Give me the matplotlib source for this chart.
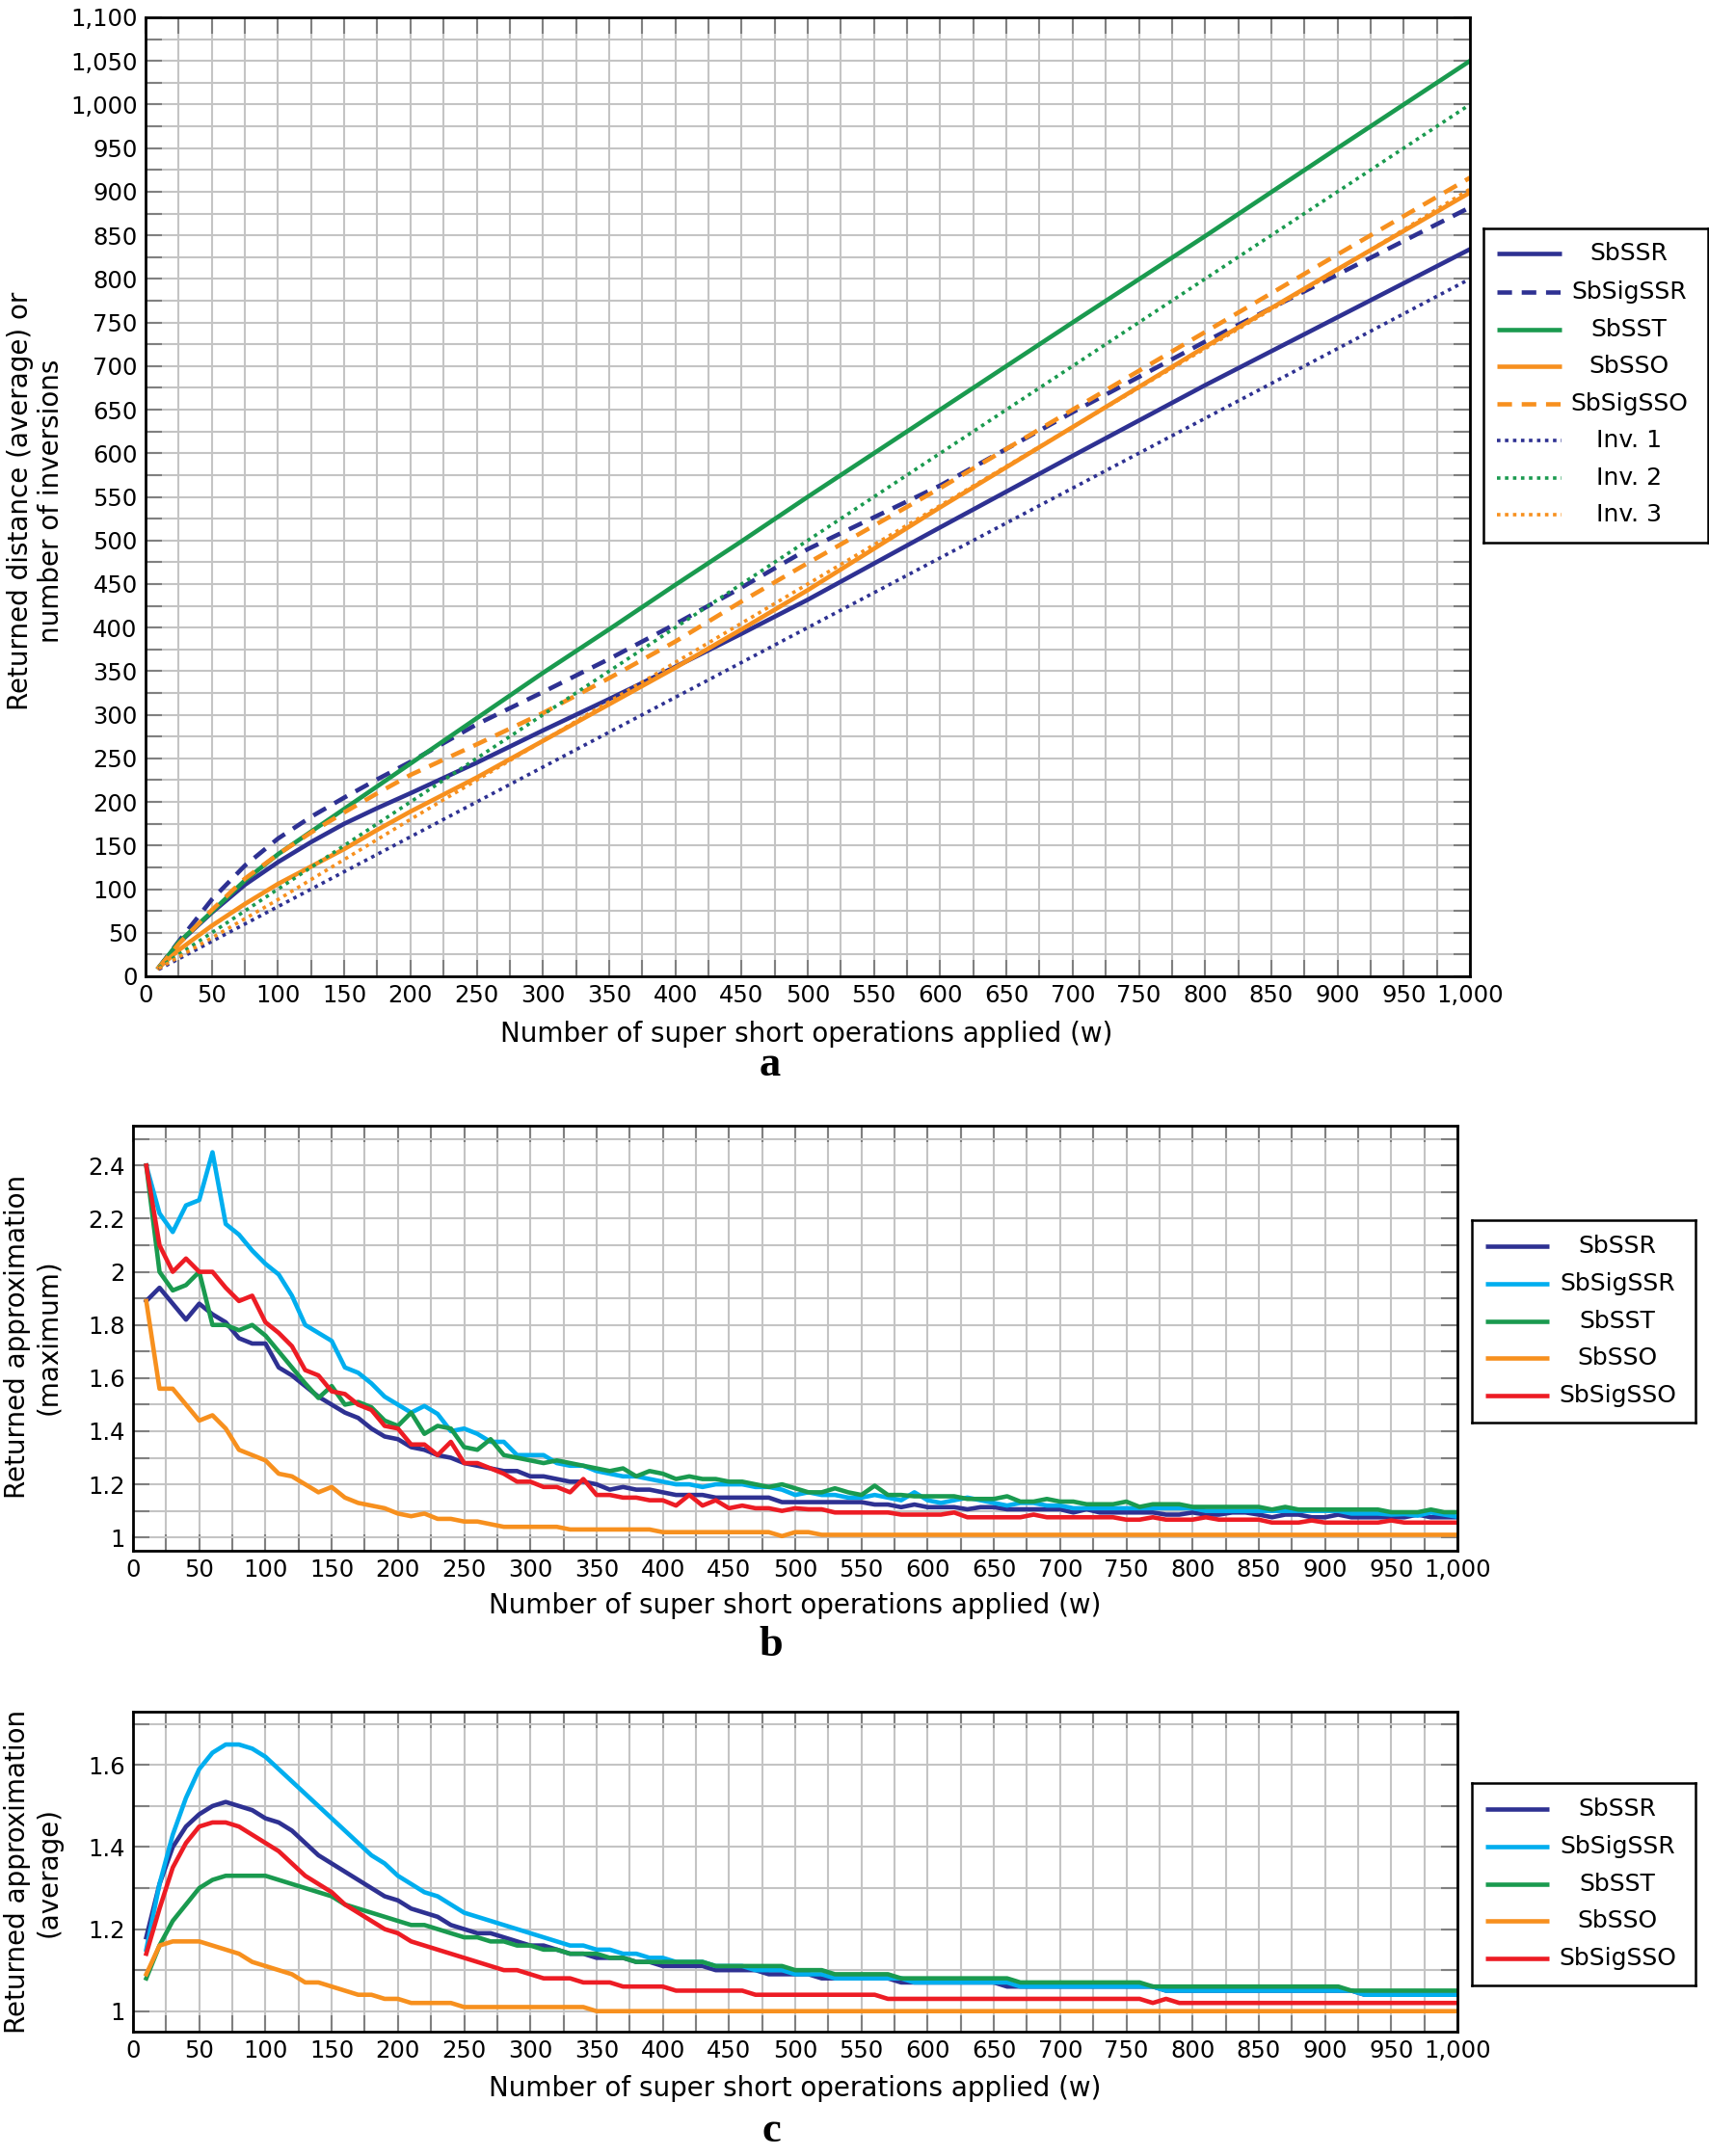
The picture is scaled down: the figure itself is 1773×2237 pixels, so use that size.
import numpy as np
import matplotlib
matplotlib.use('Agg')
import matplotlib.pyplot as plt
from matplotlib.ticker import MultipleLocator, FuncFormatter

plt.rcParams['font.family'] = 'DejaVu Sans'

# ---------------- panel a : returned distance / inversions ----------------
xa = [10, 25, 50, 75, 100, 125, 150, 175, 200, 250, 300, 350, 400, 450, 500, 600, 700, 800, 900, 1000]
a_sbssr    = [10, 38, 73, 105, 131, 154, 175, 193, 210, 245, 282, 318, 355, 393, 432, 515, 597, 678, 756, 834]
a_sbsigssr = [10, 40, 88, 127, 158, 183, 205, 226, 246, 289, 326, 364, 404, 446, 490, 563, 647, 728, 805, 882]
a_sbsst    = [10, 39, 74, 110, 140, 166, 192, 218, 244, 296, 348, 398, 449, 499, 550, 650, 750, 849, 950, 1050]
a_sbsso    = [10, 30, 58, 83, 106, 126, 146, 168, 189, 228, 270, 312, 354, 398, 443, 538, 630, 722, 811, 899]
a_sbsigsso = [10, 37, 76, 112, 140, 165, 188, 210, 231, 266, 302, 342, 384, 430, 474, 560, 650, 739, 828, 916]

x_inv = [10, 100, 200, 300, 400, 500, 600, 700, 800, 900, 1000]
inv1 = [8, 80, 160, 240, 320, 400, 480, 560, 640, 720, 800]
inv2 = [10, 100, 200, 300, 400, 500, 600, 700, 800, 900, 1000]
inv3 = [9, 88, 180, 270, 360, 450, 540, 630, 720, 810, 903]

# ---------------- panels b and c : x = 10 .. 1000 step 10 ----------------
xw = np.arange(10, 1001, 10)

b_sbssr = [1.89, 1.94, 1.88, 1.82, 1.88, 1.84, 1.81, 1.75, 1.73, 1.73,
           1.64, 1.61, 1.57, 1.53, 1.50, 1.47, 1.45, 1.41, 1.38, 1.37,
           1.34, 1.33, 1.31, 1.30, 1.28, 1.27, 1.26, 1.25, 1.25, 1.23,
           1.23, 1.22, 1.21, 1.21, 1.20, 1.18, 1.19, 1.18, 1.18, 1.17,
           1.16, 1.16, 1.16, 1.15, 1.15, 1.15, 1.15, 1.15, 1.133, 1.133,
           1.133, 1.133, 1.133, 1.133, 1.133, 1.124, 1.124, 1.114, 1.124, 1.114,
           1.114, 1.114, 1.106, 1.114, 1.114, 1.106, 1.106, 1.106, 1.106, 1.106,
           1.094, 1.106, 1.094, 1.094, 1.094, 1.094, 1.094, 1.086, 1.086, 1.094,
           1.086, 1.086, 1.094, 1.094, 1.086, 1.076, 1.086, 1.086, 1.076, 1.076,
           1.086, 1.076, 1.076, 1.076, 1.076, 1.076, 1.086, 1.076, 1.076, 1.076]
b_sbsigssr = [2.40, 2.22, 2.15, 2.25, 2.27, 2.45, 2.18, 2.14, 2.08, 2.03,
              1.99, 1.91, 1.80, 1.77, 1.74, 1.64, 1.62, 1.58, 1.53, 1.50,
              1.47, 1.495, 1.465, 1.40, 1.41, 1.39, 1.36, 1.36, 1.31, 1.31,
              1.31, 1.28, 1.27, 1.27, 1.25, 1.24, 1.23, 1.23, 1.22, 1.21,
              1.20, 1.20, 1.19, 1.20, 1.20, 1.20, 1.19, 1.19, 1.18, 1.16,
              1.17, 1.16, 1.16, 1.15, 1.15, 1.16, 1.15, 1.14, 1.17, 1.14,
              1.13, 1.14, 1.15, 1.14, 1.13, 1.12, 1.13, 1.13, 1.12, 1.12,
              1.11, 1.11, 1.11, 1.11, 1.11, 1.11, 1.11, 1.11, 1.11, 1.11,
              1.10, 1.10, 1.10, 1.10, 1.10, 1.10, 1.10, 1.10, 1.10, 1.10,
              1.10, 1.09, 1.09, 1.09, 1.086, 1.088, 1.082, 1.094, 1.086, 1.078]
b_sbsst = [2.40, 2.00, 1.93, 1.95, 2.00, 1.80, 1.80, 1.78, 1.80, 1.76,
           1.70, 1.64, 1.58, 1.525, 1.57, 1.50, 1.51, 1.49, 1.44, 1.42,
           1.47, 1.39, 1.42, 1.41, 1.34, 1.33, 1.37, 1.31, 1.30, 1.29,
           1.28, 1.29, 1.28, 1.27, 1.26, 1.25, 1.26, 1.23, 1.25, 1.24,
           1.22, 1.23, 1.22, 1.22, 1.21, 1.21, 1.20, 1.19, 1.20, 1.185,
           1.17, 1.17, 1.185, 1.17, 1.16, 1.195, 1.16, 1.16, 1.155, 1.155,
           1.155, 1.155, 1.145, 1.145, 1.145, 1.155, 1.135, 1.135, 1.145, 1.135,
           1.135, 1.125, 1.125, 1.125, 1.135, 1.115, 1.125, 1.125, 1.125, 1.115,
           1.115, 1.115, 1.115, 1.115, 1.115, 1.105, 1.115, 1.105, 1.105, 1.105,
           1.105, 1.105, 1.105, 1.105, 1.095, 1.095, 1.095, 1.105, 1.095, 1.095]
b_sbsso = [1.89, 1.56, 1.56, 1.50, 1.44, 1.46, 1.41, 1.33, 1.31, 1.29,
           1.24, 1.23, 1.20, 1.17, 1.19, 1.15, 1.13, 1.12, 1.11, 1.09,
           1.08, 1.09, 1.07, 1.07, 1.06, 1.06, 1.05, 1.04, 1.04, 1.04,
           1.04, 1.04, 1.03, 1.03, 1.03, 1.03, 1.03, 1.03, 1.03, 1.02,
           1.02, 1.02, 1.02, 1.02, 1.02, 1.02, 1.02, 1.02, 1.005, 1.02,
           1.02, 1.01, 1.01, 1.01, 1.01, 1.01, 1.01, 1.01, 1.01, 1.01,
           1.01, 1.01, 1.01, 1.01, 1.01, 1.01, 1.01, 1.01, 1.01, 1.01,
           1.01, 1.01, 1.01, 1.01, 1.01, 1.01, 1.01, 1.01, 1.01, 1.01,
           1.01, 1.01, 1.01, 1.01, 1.01, 1.01, 1.01, 1.01, 1.01, 1.01,
           1.01, 1.01, 1.01, 1.01, 1.01, 1.01, 1.01, 1.01, 1.01, 1.01]
b_sbsigsso = [2.40, 2.10, 2.00, 2.05, 2.00, 2.00, 1.94, 1.89, 1.91, 1.81,
              1.77, 1.72, 1.63, 1.61, 1.55, 1.54, 1.50, 1.48, 1.42, 1.41,
              1.35, 1.35, 1.31, 1.36, 1.28, 1.28, 1.26, 1.24, 1.21, 1.21,
              1.19, 1.19, 1.17, 1.22, 1.16, 1.16, 1.15, 1.15, 1.14, 1.14,
              1.12, 1.16, 1.12, 1.14, 1.11, 1.12, 1.11, 1.11, 1.10, 1.11,
              1.106, 1.106, 1.094, 1.094, 1.094, 1.094, 1.094, 1.086, 1.086, 1.086,
              1.086, 1.094, 1.076, 1.076, 1.076, 1.076, 1.076, 1.086, 1.076, 1.076,
              1.076, 1.076, 1.076, 1.076, 1.067, 1.067, 1.076, 1.067, 1.067, 1.067,
              1.076, 1.067, 1.067, 1.067, 1.067, 1.056, 1.056, 1.056, 1.064, 1.056,
              1.056, 1.056, 1.056, 1.056, 1.064, 1.056, 1.056, 1.056, 1.056, 1.056]

c_sbssr = [1.18, 1.31, 1.40, 1.45, 1.48, 1.50, 1.51, 1.50, 1.49, 1.47,
           1.46, 1.44, 1.41, 1.38, 1.36, 1.34, 1.32, 1.30, 1.28, 1.27,
           1.25, 1.24, 1.23, 1.21, 1.20, 1.19, 1.19, 1.18, 1.17, 1.16,
           1.16, 1.15, 1.14, 1.14, 1.13, 1.13, 1.13, 1.12, 1.12, 1.11,
           1.11, 1.11, 1.11, 1.10, 1.10, 1.10, 1.10, 1.09, 1.09, 1.09,
           1.09, 1.08, 1.08, 1.08, 1.08, 1.08, 1.08, 1.07, 1.07, 1.07,
           1.07, 1.07, 1.07, 1.07, 1.07, 1.06, 1.06, 1.06, 1.06, 1.06,
           1.06, 1.06, 1.06, 1.06, 1.06, 1.06, 1.06, 1.05, 1.05, 1.05,
           1.05, 1.05, 1.05, 1.05, 1.05, 1.05, 1.05, 1.05, 1.05, 1.05,
           1.05, 1.05, 1.04, 1.04, 1.04, 1.04, 1.04, 1.04, 1.04, 1.04]
c_sbsigssr = [1.15, 1.31, 1.43, 1.52, 1.59, 1.63, 1.65, 1.65, 1.64, 1.62,
              1.59, 1.56, 1.53, 1.50, 1.47, 1.44, 1.41, 1.38, 1.36, 1.33,
              1.31, 1.29, 1.28, 1.26, 1.24, 1.23, 1.22, 1.21, 1.20, 1.19,
              1.18, 1.17, 1.16, 1.16, 1.15, 1.15, 1.14, 1.14, 1.13, 1.13,
              1.12, 1.12, 1.12, 1.11, 1.11, 1.11, 1.10, 1.10, 1.10, 1.09,
              1.09, 1.09, 1.08, 1.08, 1.08, 1.08, 1.08, 1.08, 1.07, 1.07,
              1.07, 1.07, 1.07, 1.07, 1.07, 1.07, 1.06, 1.06, 1.06, 1.06,
              1.06, 1.06, 1.06, 1.06, 1.06, 1.06, 1.06, 1.05, 1.05, 1.05,
              1.05, 1.05, 1.05, 1.05, 1.05, 1.05, 1.05, 1.05, 1.05, 1.05,
              1.05, 1.05, 1.04, 1.04, 1.04, 1.04, 1.04, 1.04, 1.04, 1.04]
c_sbsst = [1.08, 1.16, 1.22, 1.26, 1.30, 1.32, 1.33, 1.33, 1.33, 1.33,
           1.32, 1.31, 1.30, 1.29, 1.28, 1.26, 1.25, 1.24, 1.23, 1.22,
           1.21, 1.21, 1.20, 1.19, 1.18, 1.18, 1.17, 1.17, 1.16, 1.16,
           1.15, 1.15, 1.14, 1.14, 1.14, 1.13, 1.13, 1.12, 1.12, 1.12,
           1.12, 1.12, 1.12, 1.11, 1.11, 1.11, 1.11, 1.11, 1.11, 1.10,
           1.10, 1.10, 1.09, 1.09, 1.09, 1.09, 1.09, 1.08, 1.08, 1.08,
           1.08, 1.08, 1.08, 1.08, 1.08, 1.08, 1.07, 1.07, 1.07, 1.07,
           1.07, 1.07, 1.07, 1.07, 1.07, 1.07, 1.06, 1.06, 1.06, 1.06,
           1.06, 1.06, 1.06, 1.06, 1.06, 1.06, 1.06, 1.06, 1.06, 1.06,
           1.06, 1.05, 1.05, 1.05, 1.05, 1.05, 1.05, 1.05, 1.05, 1.05]
c_sbsso = [1.09, 1.16, 1.17, 1.17, 1.17, 1.16, 1.15, 1.14, 1.12, 1.11,
           1.10, 1.09, 1.07, 1.07, 1.06, 1.05, 1.04, 1.04, 1.03, 1.03,
           1.02, 1.02, 1.02, 1.02, 1.01, 1.01, 1.01, 1.01, 1.01, 1.01,
           1.01, 1.01, 1.01, 1.01, 1.00, 1.00, 1.00, 1.00, 1.00, 1.00,
           1.00, 1.00, 1.00, 1.00, 1.00, 1.00, 1.00, 1.00, 1.00, 1.00,
           1.00, 1.00, 1.00, 1.00, 1.00, 1.00, 1.00, 1.00, 1.00, 1.00,
           1.00, 1.00, 1.00, 1.00, 1.00, 1.00, 1.00, 1.00, 1.00, 1.00,
           1.00, 1.00, 1.00, 1.00, 1.00, 1.00, 1.00, 1.00, 1.00, 1.00,
           1.00, 1.00, 1.00, 1.00, 1.00, 1.00, 1.00, 1.00, 1.00, 1.00,
           1.00, 1.00, 1.00, 1.00, 1.00, 1.00, 1.00, 1.00, 1.00, 1.00]
c_sbsigsso = [1.14, 1.25, 1.35, 1.41, 1.45, 1.46, 1.46, 1.45, 1.43, 1.41,
              1.39, 1.36, 1.33, 1.31, 1.29, 1.26, 1.24, 1.22, 1.20, 1.19,
              1.17, 1.16, 1.15, 1.14, 1.13, 1.12, 1.11, 1.10, 1.10, 1.09,
              1.08, 1.08, 1.08, 1.07, 1.07, 1.07, 1.06, 1.06, 1.06, 1.06,
              1.05, 1.05, 1.05, 1.05, 1.05, 1.05, 1.04, 1.04, 1.04, 1.04,
              1.04, 1.04, 1.04, 1.04, 1.04, 1.04, 1.03, 1.03, 1.03, 1.03,
              1.03, 1.03, 1.03, 1.03, 1.03, 1.03, 1.03, 1.03, 1.03, 1.03,
              1.03, 1.03, 1.03, 1.03, 1.03, 1.03, 1.02, 1.03, 1.02, 1.02,
              1.02, 1.02, 1.02, 1.02, 1.02, 1.02, 1.02, 1.02, 1.02, 1.02,
              1.02, 1.02, 1.02, 1.02, 1.02, 1.02, 1.02, 1.02, 1.02, 1.02]

names5 = ['SbSSR', 'SbSigSSR', 'SbSST', 'SbSSO', 'SbSigSSO']
names_a = ['SbSSR', 'SbSigSSR', 'SbSST', 'SbSSO', 'SbSigSSO', 'Inv. 1', 'Inv. 2', 'Inv. 3']

NAVY, CYAN, GREEN, ORANGE, RED = '#2e3192', '#00aeef', '#1a9a4f', '#f7901e', '#ed1c24'

W, H = 1773, 2237
fig = plt.figure(figsize=(W / 100, H / 100), dpi=100)


def box(l, t, r, b):
    return [l / W, 1 - b / H, (r - l) / W, (b - t) / H]


TICK = 17.5
LABEL = 20
LW = 3.3
DASH = (3.3, 2.2)
DOT = (1, 1.3)
LWDOT = 2.6


def style_axes(ax, xminor, ymajor, yminor, yfmt):
    ax.set_xlim(0, 1000)
    ax.xaxis.set_major_locator(MultipleLocator(50))
    ax.xaxis.set_minor_locator(MultipleLocator(xminor))
    ax.yaxis.set_major_locator(MultipleLocator(ymajor))
    ax.yaxis.set_minor_locator(MultipleLocator(yminor))
    ax.xaxis.set_major_formatter(FuncFormatter(lambda v, p: '{:,.0f}'.format(v)))
    ax.yaxis.set_major_formatter(FuncFormatter(yfmt))
    ax.grid(True, which='both', color='#c4c4c4', lw=1.5)
    ax.set_axisbelow(True)
    ax.tick_params(which='both', direction='in', length=12, width=1.5, color='#808080',
                   top=True, right=True, labelsize=TICK, pad=6)
    for s in ax.spines.values():
        s.set_linewidth(2.0)
        s.set_color('black')


def manual_legend(l, t, r, b, rows, handle_x, text_x, entries):
    lg = fig.add_axes(box(l, t, r, b))
    lg.set_xlim(0, r - l)
    lg.set_ylim(b - t, 0)
    lg.set_xticks([])
    lg.set_yticks([])
    for s in lg.spines.values():
        s.set_linewidth(1.8)
    for y, (label, color, ls, lw) in zip(rows, entries):
        lg.plot(handle_x, [y, y], color=color, linestyle=ls, lw=lw, solid_capstyle='butt')
        lg.text(text_x, y, label, ha='center', va='center', fontsize=18)


# ---------------- panel a ----------------
ax = fig.add_axes(box(151, 18, 1525, 1013))
style_axes(ax, 25, 50, 25, lambda v, p: '{:,.0f}'.format(v))
ax.set_ylim(0, 1100)
ax.plot(xa, a_sbssr, color=NAVY, lw=LW)
ax.plot(xa, a_sbsigssr, color=NAVY, lw=LW, linestyle=(0, DASH))
ax.plot(xa, a_sbsst, color=GREEN, lw=LW)
ax.plot(xa, a_sbsso, color=ORANGE, lw=LW)
ax.plot(xa, a_sbsigsso, color=ORANGE, lw=LW, linestyle=(0, DASH))
ax.plot(x_inv, inv1, color=NAVY, lw=LWDOT, linestyle=(0, DOT))
ax.plot(x_inv, inv2, color=GREEN, lw=LWDOT, linestyle=(0, DOT))
ax.plot(x_inv, inv3, color=ORANGE, lw=LWDOT, linestyle=(0, DOT))

fig.text(837 / W, 1 - 1073 / H, 'Number of super short operations applied (w)',
         ha='center', va='center', fontsize=LABEL)
fig.text(37 / W, 1 - 520 / H, 'Returned distance (average) or\nnumber of inversions',
         ha='center', va='center', rotation=90, fontsize=LABEL, multialignment='center',
         linespacing=1.2)
fig.text(799 / W, 1 - 1105 / H, 'a', ha='center', va='center', fontsize=32,
         fontweight='bold', family='Liberation Serif')

manual_legend(1539, 237, 1772, 563, [26, 66, 105, 143, 182, 220, 259, 297], [14, 81], 151,
              [(names_a[0], NAVY, '-', LW), (names_a[1], NAVY, (0, DASH), LW),
               (names_a[2], GREEN, '-', LW), (names_a[3], ORANGE, '-', LW),
               (names_a[4], ORANGE, (0, DASH), LW), (names_a[5], NAVY, (0, DOT), LWDOT),
               (names_a[6], GREEN, (0, DOT), LWDOT), (names_a[7], ORANGE, (0, DOT), LWDOT)])

# ---------------- panels b and c ----------------
fmt_g = lambda v, p: '{:g}'.format(round(v, 2))
series_b = [b_sbssr, b_sbsigssr, b_sbsst, b_sbsso, b_sbsigsso]
series_c = [c_sbssr, c_sbsigssr, c_sbsst, c_sbsso, c_sbsigsso]
colors5 = [NAVY, CYAN, GREEN, ORANGE, RED]

panels = [
    (box(138, 1168, 1512, 1609), (0.95, 2.55), series_b, 1666, 1707, 'b',
     'Returned approximation\n(maximum)', 1387, 1266),
    (box(138, 1776, 1512, 2108), (0.95, 1.73), series_c, 2167, 2211, 'c',
     'Returned approximation\n(average)', 1942, 1850),
]
for rect, ylim, series, xl_y, let_y, letter, ylab, ylab_y, leg_t in panels:
    ax = fig.add_axes(rect)
    style_axes(ax, 25, 0.2, 0.1, fmt_g)
    ax.set_ylim(*ylim)
    for vals, col in zip(series, colors5):
        ax.plot(xw, vals, color=col, lw=LW)
    fig.text(825 / W, 1 - xl_y / H, 'Number of super short operations applied (w)',
             ha='center', va='center', fontsize=LABEL)
    fig.text(34 / W, 1 - ylab_y / H, ylab, ha='center', va='center', rotation=90,
             fontsize=LABEL, multialignment='center', linespacing=1.2)
    fig.text(800 / W, 1 - let_y / H, letter, ha='center', va='center', fontsize=32,
             fontweight='bold', family='Liberation Serif')
    manual_legend(1527, leg_t, 1759, leg_t + 210, [27, 66, 105, 143, 182], [14, 80], 151,
                  [(n, c, '-', LW) for n, c in zip(names5, colors5)])

fig.savefig('out.png', dpi=100)
